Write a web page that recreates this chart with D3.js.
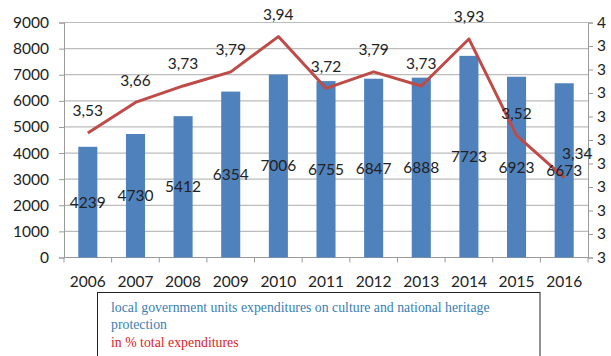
<!DOCTYPE html>
<html>
<head>
<meta charset="utf-8">
<script src="https://cdn.jsdelivr.net/npm/d3@7"></script>
<style>
  html, body { margin: 0; padding: 0; background: #fff; }
  svg { display: block; }
</style>
</head>
<body>
<svg id="chart" width="611" height="356"></svg>
<script>
const years = ["2006","2007","2008","2009","2010","2011","2012","2013","2014","2015","2016"];
const expenditures = [4239, 4730, 5412, 6354, 7006, 6755, 6847, 6888, 7723, 6923, 6673];
const sharePct = [3.53, 3.66, 3.73, 3.79, 3.94, 3.72, 3.79, 3.73, 3.93, 3.52, 3.34];
const leftTicks = [0,1000,2000,3000,4000,5000,6000,7000,8000,9000];
const rightTicks = [3.0,3.1,3.2,3.3,3.4,3.5,3.6,3.7,3.8,3.9,4.0];
const legendLines = [
  "local government units expenditures on culture and national heritage",
  "protection",
  "in % total expenditures"
];

const svg = d3.select("#chart");
const font = "Lato, 'Open Sans', sans-serif";
const x0 = 64, x1 = 588, yTop = 22.5, yBot = 257.5;

const x = d3.scaleBand().domain(years).range([x0, x1]).paddingInner(0.6).paddingOuter(0.3);
const yL = d3.scaleLinear().domain([0, 9000]).range([yBot, yTop]);
const yR = d3.scaleLinear().domain([3, 4]).range([yBot, yTop]);

const comma = v => String(v).replace(".", ",");

// gridlines
svg.append("g").selectAll("line").data(leftTicks.filter(d => d > 0)).join("line")
  .attr("x1", x0).attr("x2", x1)
  .attr("y1", d => yL(d)).attr("y2", d => yL(d))
  .attr("stroke", "#bcbcbc").attr("stroke-width", 1.2);

// left axis
const gL = svg.append("g").attr("transform", `translate(${x0},0)`)
  .call(d3.axisLeft(yL).tickValues(leftTicks).tickSize(5).tickPadding(10).tickFormat(d3.format("d")));
gL.select(".domain").attr("stroke", "#9a9a9a");
gL.selectAll(".tick line").attr("stroke", "#9a9a9a");
gL.selectAll("text").attr("font-family", font).attr("font-size", 15.5).attr("fill", "#222");

// right axis (labels clipped by the page edge, as in the original)
svg.append("clipPath").attr("id", "rclip").append("rect").attr("x", 0).attr("y", 0).attr("width", 607).attr("height", 356);
const gR = svg.append("g").attr("clip-path", "url(#rclip)").append("g").attr("transform", `translate(${x1},0)`)
  .call(d3.axisRight(yR).tickValues(rightTicks).tickSize(5).tickPadding(4).tickFormat(d => comma(+d.toFixed(1))));
gR.select(".domain").attr("stroke", "#9a9a9a");
gR.selectAll(".tick line").attr("stroke", "#9a9a9a");
gR.selectAll("text").attr("font-family", font).attr("font-size", 15.5).attr("fill", "#222");

// x axis
const xTickPos = years.map((d, i) => x0 + i * x.step()).concat([x1]);
const gX = svg.append("g");
gX.append("line").attr("x1", x0).attr("x2", x1).attr("y1", yBot).attr("y2", yBot).attr("stroke", "#9a9a9a");
gX.selectAll("line.t").data(xTickPos).join("line").attr("class", "t")
  .attr("x1", d => d).attr("x2", d => d).attr("y1", yBot).attr("y2", yBot + 5).attr("stroke", "#9a9a9a");
gX.selectAll("text").data(years).join("text")
  .attr("x", d => x(d) + x.bandwidth() / 2).attr("y", 286.5)
  .attr("text-anchor", "middle").attr("font-family", font).attr("font-size", 15.5).attr("fill", "#222")
  .text(d => d);

// bars
svg.append("g").selectAll("rect").data(years).join("rect")
  .attr("x", d => x(d)).attr("width", x.bandwidth())
  .attr("y", (d, i) => yL(expenditures[i])).attr("height", (d, i) => yBot - yL(expenditures[i]))
  .attr("fill", "#4f81bd");

// line
const line = d3.line().x((d, i) => x(years[i]) + x.bandwidth() / 2).y(d => yR(d));
svg.append("path").datum(sharePct).attr("d", line)
  .attr("fill", "none").attr("stroke", "#be4b48").attr("stroke-width", 3).attr("stroke-linejoin", "round");

// bar labels (centered at half height)
svg.append("g").selectAll("text").data(expenditures).join("text")
  .attr("x", (d, i) => x(years[i]) + x.bandwidth() / 2)
  .attr("y", d => yL(d / 2))
  .attr("dy", "0.35em").attr("text-anchor", "middle")
  .attr("font-family", font).attr("font-size", 15.5).attr("fill", "#222")
  .text(d => d);

// line labels
const last = sharePct.length - 1;
svg.append("g").selectAll("text").data(sharePct).join("text")
  .attr("x", (d, i) => x(years[i]) + x.bandwidth() / 2 + (i === last ? 13 : 0))
  .attr("y", (d, i) => yR(d) - (i === last ? 24 : 22))
  .attr("dy", "0.35em").attr("text-anchor", "middle")
  .attr("font-family", font).attr("font-size", 15.5).attr("fill", "#222")
  .text(d => comma(d.toFixed(2)));

// legend box
svg.append("rect").attr("x", 97.5).attr("y", 292.5).attr("width", 442.5).attr("height", 80)
  .attr("fill", "#fff").attr("stroke", "#222").attr("stroke-width", 1);
const legColors = ["#3a80b3", "#3a80b3", "#d9232a"];
const legY = [311.5, 329, 346.5];
svg.append("g").selectAll("text").data(legendLines).join("text")
  .attr("x", 111).attr("y", (d, i) => legY[i])
  .attr("font-family", "'Liberation Serif', 'Times New Roman', serif").attr("font-size", 13.8)
  .attr("fill", (d, i) => legColors[i])
  .text(d => d);
</script>
</body>
</html>
